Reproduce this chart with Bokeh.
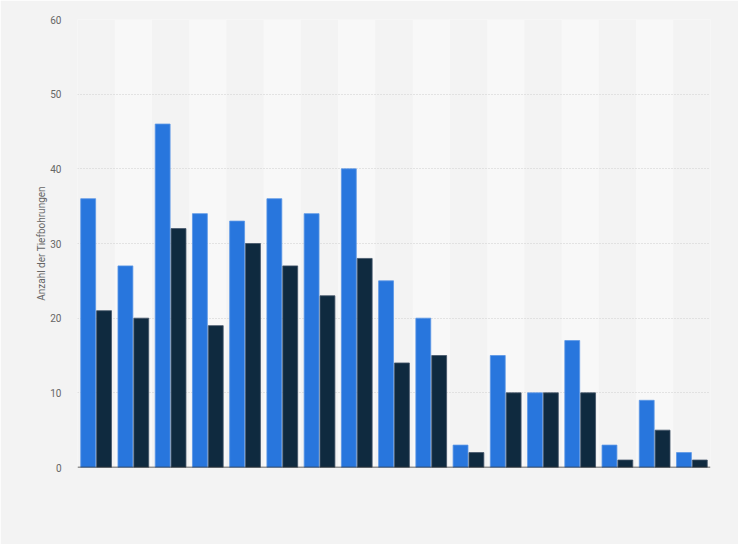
from bokeh.plotting import figure
from bokeh.models import Range1d, Span
from bokeh.embed import file_html
from bokeh.resources import INLINE

categories = [str(i) for i in range(1, 18)]
series_a = [36, 27, 46, 34, 33, 36, 34, 40, 25, 20, 3, 15, 10, 17, 3, 9, 2]
series_b = [21, 20, 32, 19, 30, 27, 23, 28, 14, 15, 2, 10, 10, 10, 1, 5, 1]
y_ticks = [0, 10, 20, 30, 40, 50, 60]
y_label = "Anzahl der Tiefbohrungen"

n = len(categories)
xs = list(range(n))

p = figure(width=738, height=544, output_backend="svg", toolbar_location=None,
           x_range=Range1d(-0.5, n - 0.5), y_range=Range1d(0, 60),
           min_border_left=77, min_border_right=28, min_border_top=19, min_border_bottom=77)
p.background_fill_color = "#f3f3f3"
p.border_fill_color = "#f3f3f3"
p.outline_line_color = None

# alternating bands
band_x = [x for x in xs if x % 2 == 1]
p.vbar(x=band_x, top=[y_ticks[-1]] * len(band_x), bottom=0, width=1.0,
       fill_color="#f8f8f8", line_color=None, level="underlay")

p.vbar(x=[x - 0.213 for x in xs], top=series_a, width=0.4,
       fill_color="#2876dd", line_color="#5c97e6", line_width=0.8)
p.vbar(x=[x + 0.213 for x in xs], top=series_b, width=0.4,
       fill_color="#0f2a3f", line_color="#44566a", line_width=0.8)

p.xaxis.visible = False
p.xgrid.visible = False
p.ygrid.grid_line_color = "#cfcfcf"
p.ygrid.grid_line_dash = "1 2"
p.ygrid.grid_line_width = 1

yaxis = p.yaxis[0]
yaxis.ticker = y_ticks
yaxis.axis_line_color = None
yaxis.major_tick_line_color = None
yaxis.minor_tick_line_color = None
yaxis.major_label_text_font = "Roboto"
yaxis.major_label_text_font_size = "10px"
yaxis.major_label_text_color = "#666666"
yaxis.major_label_standoff = 10
yaxis.axis_label = y_label
yaxis.axis_label_text_font = "Roboto"
yaxis.axis_label_text_font_size = "10px"
yaxis.axis_label_text_font_style = "normal"
yaxis.axis_label_text_color = "#666666"
yaxis.axis_label_standoff = 0

p.add_layout(Span(location=0, dimension="width", line_color="#333333", line_width=1.5))

html = file_html(p, INLINE)
html = html.replace("<body>", '<body style="background:#f3f3f3">', 1)
open("out.html", "w").write(html)
